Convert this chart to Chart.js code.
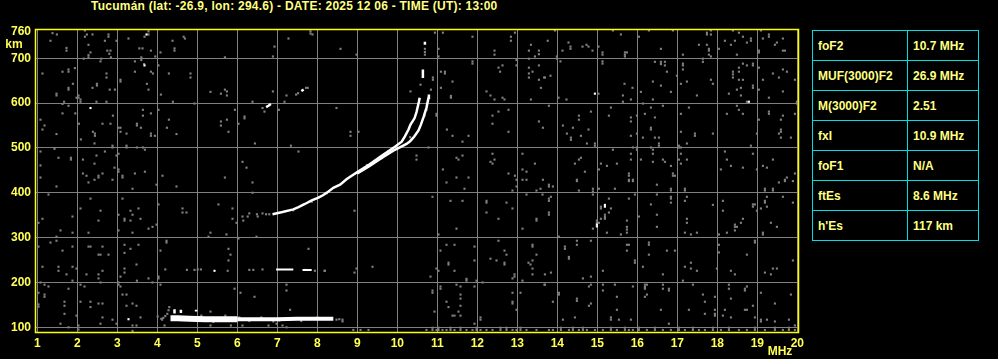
<!DOCTYPE html>
<html>
<head>
<meta charset="utf-8">
<script src="https://cdn.jsdelivr.net/npm/chart.js@4"></script>
<style>
  html, body { margin: 0; padding: 0; background: #000; width: 998px; height: 359px; overflow: hidden; }
  #title { position: absolute; left: 91px; top: -1px; font: bold 12px "Liberation Sans", Arial, sans-serif; color: #ffff80; line-height: 15px; white-space: nowrap; letter-spacing: 0.25px; }
  #chart { position: absolute; left: 0; top: 0; }
  table { position: absolute; left: 812px; top: 30px; width: 166px; table-layout: fixed; border-collapse: collapse;
          font: bold 12px "Liberation Sans", Arial, sans-serif; color: #ffff80; }
  td { border: 1px solid #00e0e0; height: 29px; padding: 0 0 0 5px; vertical-align: middle; white-space: nowrap; }
  tr { height: 30px; }
</style>
</head>
<body>
<div id="title">Tucumán (lat: -26.9, lon: 294.6) - DATE: 2025 12 06 - TIME (UT): 13:00</div>
<canvas id="chart" width="812" height="359"></canvas>
<table>
  <colgroup><col style="width:95px"><col style="width:71px"></colgroup>
  <tbody id="params"></tbody>
</table>
<script>
// axis ticks
const freqTicks = [1, 2, 3, 4, 5, 6, 7, 8, 9, 10, 11, 12, 13, 14, 15, 16, 17, 18, 19, 20];
const heightTicks = [100, 200, 300, 400, 500, 600, 700, 760];

// scaled parameters table
const paramNames = ['foF2', 'MUF(3000)F2', 'M(3000)F2', 'fxI', 'foF1', 'ftEs', "h'Es"];
const paramValues = ['10.7 MHz', '26.9 MHz', '2.51', '10.9 MHz', 'N/A', '8.6 MHz', '117 km'];

// F2 traces [MHz, km]
const traceO = [[6.88,352],[7.13,357],[7.40,363],[7.53,368],[7.69,375],[7.86,383],[8.03,389],[8.15,395],[8.28,403],[8.40,411],
  [8.57,418],[8.73,430],[8.86,438],[9.0,446],[9.3,463],[9.6,482],[9.95,503],[10.11,514],[10.19,526],[10.28,541],[10.33,552],
  [10.43,566],[10.48,580],[10.54,603],[10.56,612], null, [10.64,656],[10.64,675], null, [10.69,730],[10.69,737]];
const traceX = [[9.0,443],[9.3,459],[9.6,477],[9.9,494],[10.1,503],[10.23,509],[10.32,515],[10.42,525],[10.53,539],[10.59,552],
  [10.66,570],[10.73,590],[10.78,612],[10.79,619]];
const traceGray = [[6.13,347],[6.15,338],[6.26,347],[6.30,354],[6.51,347],[6.49,352],[6.63,354],[6.72,352],[6.80,352],
  [7.40,361],[7.86,380],[8.24,399],[9.24,462],[9.61,477],[9.78,488],[10.32,524],[10.58,641],[10.69,708],[10.69,714],[10.69,721],
  [10.73,585],[10.68,572]];
// weak echoes near 590 and 630 km
const ghostWhite = [[6.72,591],[6.78,594],[6.84,598], null, [7.60,627],[7.66,630]];
const ghostGray = [[6.63,589],[6.68,581],[7.47,619],[7.52,622],[7.72,634],[7.76,634]];

// sporadic E and its second hop
const esTrace = [[4.33,120],[4.5,120],[4.8,119],[5.2,118],[5.6,118],[6.0,118]];
const esTraceThin = [[6.0,118],[6.5,118],[7.0,118],[7.5,119],[8.0,119],[8.40,119]];
const esHook = [[4.43,131],[4.43,140], null, [4.59,132],[4.59,139], null, [4.97,135],[4.97,139]];
const esGray = [[4.15,121],[4.2,125],[4.28,138],[4.25,130],[4.12,117],[4.30,145],[4.01,124],[4.1,119],[5.1,126],[5.4,112],
  [5.7,126],[6.05,122],[6.3,114],[6.6,122],[6.9,113],[7.05,115],[7.6,114],[8.0,122],[8.48,117],[8.55,118],[8.63,117],[8.63,113]];
const es2White = [[6.97,229],[7.40,229], null, [7.63,228],[7.86,228]];
const es2Gray = [[6.30,228],[6.40,228],[6.63,229],[7.70,228],[7.94,226],[8.19,226],[5.01,229],[5.09,229],[4.93,228],[4.74,228],[4.20,229]];

// bright isolated dots
const whiteDots = [[3.73,753],[3.68,684],[2.33,589],[14.94,621],[18.79,603],[3.28,118],[5.43,226],
  [15.19,373],[15.19,369],[14.99,329],[14.99,325]];

// background noise, upper half
const noiseTop = [[1.38,756],[1.49,753],[1.33,739],[1.73,723],[1.73,717],[2.19,762],[2.24,753],[2.19,748],[2.38,753],[2.78,753],
  [2.78,748],[2.28,730],[2.33,713],[2.28,707],[2.28,702],[2.16,699],[2.60,699],[2.58,693],[2.75,717],[2.83,717],[2.80,710],[2.84,702],
  [2.98,739],[2.69,739],[3.28,744],[3.78,760],[3.78,753],[3.68,748],[3.55,722],[3.63,722],[3.84,717],[4.08,713],[3.95,704],[3.60,702],
  [3.60,696],[4.38,739],[4.66,748],[4.69,744],[4.43,722],[4.43,717],[3.67,687],[3.44,693],[4.03,684],[3.84,670],[3.89,666],[3.44,670],
  [3.74,643],[3.78,630],[4.09,619],[4.29,666],[4.83,666],[4.83,657],[5.69,702],[6.89,704],[6.93,726],[7.28,744],
  [1.13,666],[1.63,670],[1.78,675],[1.78,670],[1.94,678],[2.73,666],[2.73,657],[3.08,652],[3.08,648],[2.49,643],[2.49,639],[2.38,634],
  [1.89,643],[1.78,634],[1.78,630],[2.81,630],[2.94,630],[1.48,621],[1.48,617],[2.03,617],[2.03,612],[2.08,608],[2.08,603],[1.98,612],
  [1.67,603],[1.78,594],[1.63,598],[2.73,603],[2.48,603],[1.95,577],[1.63,577],[1.08,563],[1.18,550],[1.13,541],[1.48,531],[2.04,554],
  [2.39,536],[2.44,532],[2.44,527],[2.63,554],[2.83,554],[3.03,545],[3.08,545],[3.08,536],[3.23,532],[3.49,554],[3.49,550],[3.59,545],
  [3.64,585],[3.64,572],[3.84,577],[4.03,585],[2.89,572],[4.29,563],[4.24,545],[4.48,531],[3.84,532],[3.84,527],[3.94,527],[2.09,519],
  [2.43,510],[2.88,505],[2.88,501],[3.23,505],[3.23,501],[3.49,501],[3.64,501],[3.69,496],[1.43,498],[1.08,492],[1.53,478],[1.84,478],
  [1.84,474],[2.14,474],[2.48,483],[2.69,492],[3.03,487],[2.98,483],[1.08,461],[2.43,465],[2.93,456],[3.03,452],[3.03,447],[2.14,443],
  [2.23,438],[2.53,438],[2.53,434],[2.63,443],[2.88,429],[3.13,438],[3.13,434],[3.44,443],[3.69,447],[4.13,438],[1.08,434],[2.43,429],
  [5.33,625],[5.59,621],[5.69,630],[5.74,626],[5.74,617],[6.38,603],[6.89,626],[7.23,617],[7.18,603],[7.04,585],[5.94,585],[5.59,559],
  [5.59,550],[5.74,563],[5.78,536],[6.03,554],[6.18,570],[6.18,566],[6.44,510],[6.13,469],[6.23,456],[5.69,434],[4.93,599],[4.39,603],
  [7.83,760],[7.83,755],[7.88,753],[8.58,721],[8.98,708],[8.48,589],[8.83,536],[8.83,527],[9.03,536],[7.34,505],[7.53,492],
  [11.03,721],[11.03,704],[10.94,757],[11.14,757],[11.88,748],[12.84,748],[12.84,739],[12.94,757],[12.43,717],[12.43,708],[13.34,730],
  [13.29,717],[13.54,717],[13.54,709],[13.44,704],[13.29,699],[11.88,693],[11.88,688],[12.98,696],[12.98,684],[12.53,679],[12.63,684],
  [12.57,670],[13.29,679],[13.38,670],[13.54,684],[13.29,666],[13.29,657],[13.54,652],[13.59,634],[13.67,657],[11.19,670],[11.19,666],
  [11.09,670],[10.89,657],[10.89,652],[11.38,648],[11.09,634],[10.84,630],[10.33,626],[11.34,616],[11.34,612],[12.23,626],[12.33,617],
  [12.43,608],[12.63,612],[12.68,608],[13.34,608],[12.78,585],[12.53,581],[12.38,572],[12.38,554],[13.54,559],[13.64,545],[12.78,536],
  [10.98,576],[10.98,572],[11.24,541],[11.38,527],[11.63,514],[11.78,527],[10.78,501],[10.48,483],[10.48,474],[11.48,478],[11.53,474],
  [11.63,483],[12.38,487],[12.33,469],[12.38,465],[12.43,474],[13.13,487],[13.44,465],[13.23,447],[13.13,452],[12.78,443],[12.94,438],
  [12.98,429],[13.13,429],[13.23,429],[11.14,452],[11.48,434],[11.78,434],[13.64,429],
  [13.94,762],[13.76,739],[14.28,735],[14.33,726],[14.33,721],[14.13,717],[14.63,726],[14.73,730],[14.78,726],[14.88,717],[15.03,726],
  [15.13,713],[15.13,708],[15.39,762],[15.59,753],[15.69,713],[15.69,708],[15.69,704],[15.74,713],[16.04,748],[16.29,762],[16.59,721],
  [16.89,762],[17.14,708],[17.54,730],[17.74,757],[17.74,753],[17.84,762],[17.79,721],[17.79,717],[17.79,708],[17.74,730],[17.84,753],
  [18.04,721],[18.19,739],[18.34,730],[18.44,739],[18.39,762],[18.54,757],[18.64,748],[18.74,735],[18.84,744],[18.84,739],[18.49,708],
  [19.04,717],[19.04,713],[19.09,762],[19.29,753],[19.29,748],[19.14,744],[19.44,730],[19.49,735],[19.64,744],[19.64,717],[19.69,717],
  [13.99,704],[13.99,699],[14.08,693],[15.13,693],[15.13,688],[16.44,692],[16.59,692],[16.59,687],[16.69,692],[16.69,684],[16.74,670],
  [17.14,688],[17.14,684],[17.14,675],[16.99,661],[17.24,648],[17.09,643],[17.64,699],[17.64,692],[17.84,704],[17.89,643],[17.84,652],
  [18.39,670],[18.39,664],[18.39,657],[18.54,679],[18.54,670],[18.54,652],[18.64,652],[18.64,688],[18.74,684],[18.89,688],[18.89,684],
  [19.04,679],[19.14,652],[19.39,666],[19.54,657],[19.64,675],[19.74,670],[19.94,652],[19.99,603],[19.99,599],[18.89,639],[18.89,634],
  [18.59,634],[18.49,630],[18.29,621],[18.59,617],[18.74,603],[19.04,630],[19.29,612],[19.64,626],[13.83,661],[13.69,657],[14.03,612],
  [14.23,608],[13.79,594],[15.03,621],[15.68,643],[15.88,634],[15.64,617],[15.84,608],[15.64,603],[16.09,625],[16.39,648],[16.59,639],
  [16.84,625],[16.39,608],[16.14,599],[16.34,590],[16.64,594],[17.29,590],[17.49,617],[17.09,576],[16.44,568],[16.19,576],[15.84,568],
  [15.84,559],[15.99,572],[15.34,590],[15.29,572],[14.84,581],[14.54,572],[14.54,563],[14.39,545],[14.14,550],[14.78,541],[14.24,532],
  [14.34,523],[14.34,518],[14.59,527],[14.74,510],[14.94,510],[14.94,505],[15.84,527],[15.99,532],[16.34,545],[16.34,541],[16.14,523],
  [16.44,523],[16.54,523],[16.54,510],[16.54,505],[17.09,536],[17.44,532],[17.44,527],[17.24,510],[17.89,532],[18.24,576],[18.49,594],
  [18.54,585],[18.64,576],[19.04,563],[19.29,581],[19.29,576],[19.64,572],[19.59,563],[19.59,541],[19.59,536],[19.54,532],[19.59,523],
  [19.84,523],[19.94,576],[18.84,505],[18.99,532],[15.39,496],[15.84,487],[15.89,501],[15.99,501],[15.99,496],[16.39,496],[16.39,487],
  [16.34,501],[17.04,505],[17.04,501],[17.09,501],[17.09,487],[17.24,474],[17.04,474],[17.09,465],[16.84,460],[16.89,443],[16.89,438],
  [16.94,438],[16.64,474],[16.69,469],[16.39,469],[16.09,474],[15.84,474],[15.49,465],[15.24,460],[15.09,465],[15.04,452],[14.69,447],
  [14.44,465],[14.54,474],[14.59,478],[14.49,429],[15.79,443],[15.79,438],[15.79,429],[15.89,429],[18.19,492],[18.24,474],[18.34,460],
  [18.09,452],[18.89,487],[18.64,456],[18.99,452],[19.14,460],[19.24,456],[19.39,474],[19.74,434],[19.69,429],[19.94,443]];

// background noise, lower half
const noiseBottom = [[1.48,414],[2.28,423],[3.38,409],[3.98,418],[4.48,414],[6.38,423],[6.38,400],[1.28,396],[2.33,387],[2.08,365],
  [1.88,347],[1.03,333],[1.13,342],[1.58,316],[1.88,311],[2.28,311],[2.58,360],[2.53,338],[3.13,387],[3.03,351],[3.18,342],[3.18,338],
  [3.33,360],[3.38,351],[3.53,365],[3.58,342],[3.33,338],[4.03,374],[3.88,324],[3.78,320],[3.98,329],[3.38,311],[3.03,316],[4.63,365],
  [4.63,356],[4.73,356],[5.88,365],[5.88,342],[5.53,374],[5.98,333],[5.33,311],[5.73,307],[5.28,302],[6.03,298],[6.48,302],[1.48,302],
  [1.48,293],[1.33,289],[1.03,280],[1.63,271],[1.88,280],[2.28,280],[2.33,280],[2.53,262],[2.58,262],[2.63,280],[2.78,262],[3.18,284],
  [3.18,266],[3.33,275],[3.53,284],[3.48,240],[4.08,271],[4.23,293],[4.23,289],[5.78,275],[5.83,262],[5.78,249],[1.13,235],[1.53,235],
  [1.53,226],[1.88,235],[1.98,231],[1.73,218],[1.88,204],[2.23,218],[2.53,218],[2.53,209],[2.63,226],[3.18,231],[3.18,222],[3.08,213],
  [3.49,204],[3.78,209],[4.03,213],[4.03,209],[5.76,226],[1.08,200],[1.18,195],[1.28,191],[1.78,186],[2.08,195],[2.18,191],[2.58,200],
  [3.03,200],[3.03,195],[3.08,191],[1.18,173],[1.18,168],[1.03,177],[3.13,173],[3.23,173],[3.88,200],[4.08,195],[1.03,151],[1.03,146],
  [1.68,157],[1.68,148],[2.08,157],[2.33,157],[2.33,145],[2.53,153],[2.63,153],[3.23,148],[3.38,153],[3.48,148],[1.68,130],[1.98,126],
  [2.63,122],[2.88,117],[1.58,108],[1.78,100],[2.03,104],[2.03,95],[2.58,108],[2.98,108],[3.38,104],[3.38,92],[3.48,104],[4.18,104],
  [3.58,122],[5.33,135],[6.08,177],[6.43,168],[7.23,195],[7.23,182],[5.93,186],[5.33,104],[5.84,104],[6.13,104],[6.78,104],[6.98,108],
  [7.13,104],[7.23,100],
  [8.93,360],[10.88,391],[11.23,423],[11.68,409],[11.33,382],[11.63,382],[12.23,382],[12.23,378],[12.73,378],[12.88,365],[12.23,356],
  [12.53,342],[12.88,405],[12.98,414],[13.23,396],[13.48,405],[13.58,409],[13.63,396],[13.48,342],[13.48,338],[13.13,320],[11.48,320],
  [11.03,307],[7.78,275],[9.38,235],[8.93,222],[8.98,231],[8.18,226],[11.08,271],[11.23,284],[11.43,284],[11.93,280],[12.53,293],
  [12.68,271],[12.73,262],[12.33,253],[12.48,249],[12.68,244],[12.68,240],[11.93,249],[11.28,244],[11.28,240],[11.43,226],[11.03,226],
  [10.98,231],[10.83,213],[11.73,208],[11.73,204],[11.98,204],[12.13,200],[12.93,218],[12.93,213],[12.88,209],[13.13,204],[13.38,284],
  [13.38,280],[13.28,244],[13.33,240],[13.38,249],[13.38,231],[13.38,218],[13.48,262],[13.68,195],[11.08,191],[11.08,186],[11.48,195],
  [11.58,191],[11.93,191],[10.88,182],[10.88,177],[11.23,157],[11.28,145],[11.58,173],[11.58,164],[11.58,148],[11.53,135],[11.38,126],
  [11.43,126],[11.58,126],[10.93,135],[12.08,122],[12.08,117],[11.93,108],[12.88,177],[13.08,177],[12.88,157],[12.88,153],[12.98,139],
  [7.32,139],
  [13.79,418],[13.79,414],[13.89,414],[13.79,387],[13.79,382],[13.84,391],[13.79,356],[13.79,351],[14.49,426],[14.54,405],[14.89,409],
  [14.89,403],[14.89,396],[15.04,409],[15.44,409],[15.79,426],[15.89,426],[15.94,396],[15.79,387],[15.29,387],[15.09,369],[15.09,365],
  [15.34,365],[15.29,356],[15.19,351],[15.19,346],[15.19,342],[15.09,342],[14.99,338],[14.99,333],[15.04,333],[14.89,320],[15.24,311],
  [15.59,307],[15.74,324],[15.74,318],[15.74,311],[15.74,338],[16.04,347],[16.34,374],[16.49,418],[16.49,396],[16.84,409],[16.84,405],
  [16.84,391],[16.84,387],[16.84,378],[16.49,351],[16.49,324],[17.19,409],[17.19,405],[17.24,391],[17.19,382],[17.24,342],[17.24,333],
  [17.19,311],[17.34,307],[17.49,311],[17.89,373],[18.14,382],[18.14,360],[18.04,307],[18.24,311],[18.44,329],[18.44,324],[18.49,324],
  [18.44,316],[18.59,333],[18.64,342],[18.89,374],[18.89,369],[18.94,374],[18.99,360],[19.09,365],[19.19,382],[19.19,378],[19.24,369],
  [19.24,391],[19.19,409],[19.19,405],[19.39,409],[19.39,405],[19.54,423],[19.69,426],[19.89,426],[19.64,391],[19.89,378],[19.34,333],
  [19.49,324],[19.14,311],[19.14,307],[14.04,302],[14.49,293],[14.84,293],[14.19,280],[14.19,275],[14.29,257],[14.29,253],[14.49,284],
  [13.84,222],[13.69,218],[14.64,209],[14.84,213],[15.14,226],[15.74,284],[15.79,284],[15.74,271],[15.94,249],[15.94,244],[16.14,235],
  [16.29,289],[16.29,284],[16.29,262],[16.74,271],[16.94,271],[16.64,218],[17.14,204],[17.19,235],[17.34,244],[17.34,231],[17.49,226],
  [17.99,231],[18.04,284],[18.04,267],[18.34,226],[18.44,218],[18.74,262],[18.94,293],[18.94,289],[19.19,222],[19.39,231],[19.49,231],
  [19.34,218],[19.89,249],[13.69,195],[14.04,177],[14.04,173],[13.89,157],[14.84,195],[14.79,191],[15.14,195],[15.14,182],[15.44,195],
  [15.89,191],[16.19,195],[16.19,190],[16.19,186],[16.24,195],[16.19,168],[16.24,173],[16.64,195],[16.64,186],[16.79,186],[16.79,182],
  [17.39,195],[17.64,173],[17.94,168],[18.29,195],[18.29,186],[18.34,164],[18.69,186],[18.69,182],[18.74,191],[19.09,177],[19.44,153],
  [19.84,173],[14.49,164],[14.49,159],[14.84,153],[14.79,148],[15.49,168],[15.49,139],[15.34,122],[15.34,117],[15.54,117],[15.84,117],
  [16.59,139],[16.79,108],[17.29,139],[17.69,157],[17.69,130],[17.94,139],[17.94,130],[17.94,126],[18.14,126],[18.19,139],[18.34,122],
  [18.69,139],[18.74,139],[18.89,148],[18.94,122],[19.09,117],[19.09,113],[19.24,117],[19.44,113],[19.79,117],[19.94,104],[14.14,117],
  [14.44,122]];

// noise along the lowest range gate
const floorFreqs = [8.90,9.08,9.28,10.73,10.88,10.98,11.03,11.13,11.23,11.33,11.43,11.58,11.73,11.88,11.98,12.08,12.23,12.38,
  12.58,12.73,12.88,12.98,13.08,13.23,13.48,13.79,13.89,14.09,14.29,14.39,14.54,14.64,14.74,14.94,15.14,15.34,15.49,15.69,15.79,
  15.89,16.04,16.24,16.44,16.64,16.84,17.04,17.19,17.39,17.54,17.69,17.89,18.09,18.29,18.54,18.74,18.94,19.19,19.44,19.64,19.79,19.94];
const floorStacked = [10.88,11.03,11.33,11.58,11.98,12.58,12.73,13.08,14.09,14.39,14.64,15.34,15.69,16.04,16.44,17.04,17.39,
  17.89,18.29,18.94,19.44,19.79];

// null in a trace means a break in the echo
const xy = arr => arr.map(p => p ? { x: p[0], y: p[1] } : { x: NaN, y: NaN });
const floorPts = floorFreqs.map(f => [f, 94]).concat(floorStacked.map(f => [f, 99]));

const tbody = document.getElementById('params');
paramNames.forEach((n, i) => {
    const tr = document.createElement('tr');
    tr.innerHTML = `<td>${n}</td><td>${paramValues[i]}</td>`;
    tbody.appendChild(tr);
});

const FONT = '"Liberation Sans", Arial, sans-serif';
const GRAY = '#808080';

const pts = (data, color, r) => ({
    data: xy(data), showLine: false, pointStyle: 'rect', pointRadius: r || 1.5,
    pointBackgroundColor: color, pointBorderWidth: 0,
});
const line = (data, width) => ({
    data: xy(data), showLine: true, borderColor: '#ffffff', borderWidth: width,
    pointRadius: 0, spanGaps: false, borderCapStyle: 'butt',
});

const frame = {
    id: 'frame',
    afterDraw(chart) {
        const { ctx, chartArea: a } = chart;
        ctx.save();
        ctx.strokeStyle = '#ffff00';
        ctx.lineWidth = 1.5;
        ctx.strokeRect(a.left - 0.5, a.top - 0.5, a.right - a.left + 1, a.bottom - a.top + 1);
        ctx.fillStyle = '#ffff55';
        ctx.font = 'bold 12px ' + FONT;
        ctx.textAlign = 'center';
        ctx.textBaseline = 'middle';
        ctx.fillText('km', 14, 45);
        ctx.fillText('MHz', 780, 352);
        ctx.restore();
    }
};

new Chart(document.getElementById('chart'), {
    type: 'scatter',
    data: {
        datasets: [
            pts(whiteDots, '#ffffff'),
            line(traceO, 2.5),
            line(traceX, 2.5),
            line(ghostWhite, 2.5),
            line(esHook, 2.5),
            line(es2White, 2),
            line(esTrace, 6),
            line(esTraceThin, 4),
            pts(traceGray, GRAY),
            pts(ghostGray, GRAY),
            pts(esGray, GRAY),
            pts(es2Gray, GRAY),
            pts(noiseTop, GRAY),
            pts(noiseBottom, GRAY),
            pts(floorPts, GRAY),
        ]
    },
    options: {
        responsive: false,
        animation: false,
        layout: { padding: { top: 30, right: 14, left: 0, bottom: 0 } },
        plugins: { legend: { display: false }, tooltip: { enabled: false } },
        scales: {
            x: {
                type: 'linear', min: 0.9675, max: 20.0175,
                afterBuildTicks: s => { s.ticks = freqTicks.map(v => ({ value: v })); },
                afterFit: s => { s.height = 27; },
                grid: { color: GRAY, lineWidth: 1, drawTicks: false },
                border: { display: false },
                ticks: { color: '#ffff55', font: { family: FONT, size: 12, weight: 'bold' }, padding: 4, maxRotation: 0, autoSkip: false }
            },
            y: {
                type: 'linear', min: 89.5, max: 763,
                afterBuildTicks: s => { s.ticks = heightTicks.map(v => ({ value: v })); },
                afterFit: s => { s.width = 36; },
                grid: { color: c => (c.tick && c.tick.value === 760) ? 'rgba(0,0,0,0)' : GRAY, lineWidth: 1, drawTicks: false },
                border: { display: false },
                ticks: { color: '#ffff55', font: { family: FONT, size: 12, weight: 'bold' }, padding: 5, autoSkip: false }
            }
        }
    },
    plugins: [frame]
});
</script>
</body>
</html>
